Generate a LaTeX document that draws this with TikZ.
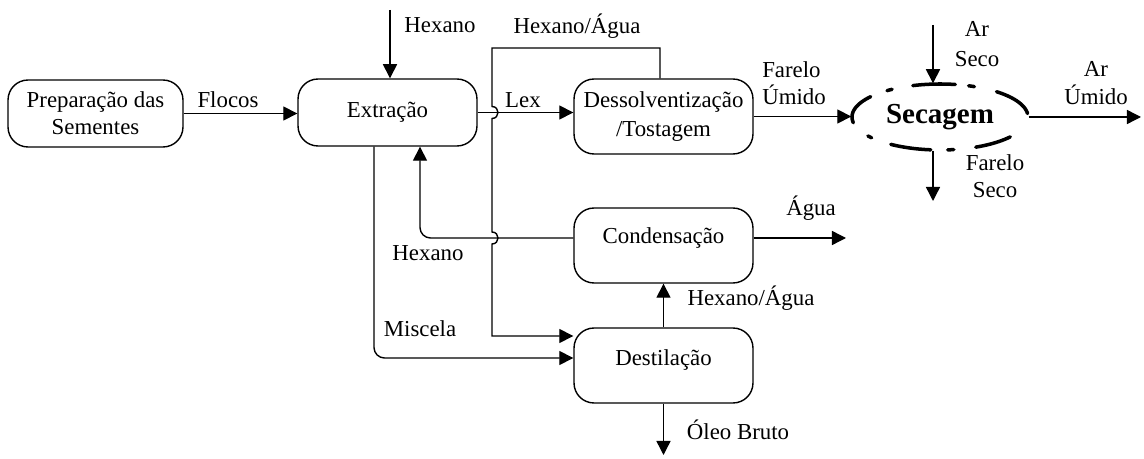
\documentclass[tikz,border=0pt]{standalone}
\usepackage{fontspec}
\setmainfont{Liberation Serif}
\usetikzlibrary{arrows.meta,shapes.geometric,calc}
\begin{document}
\begin{tikzpicture}[x=0.02cm,y=-0.02cm, line width=0.8pt,
  >={Triangle[length=8pt,width=8pt]},
  every node/.style={font=\fontsize{13}{15.5}\selectfont, inner sep=1pt},
  proc/.style={draw, rounded corners=0.4cm, minimum width=3.58cm, inner sep=0pt, align=center},
  dashseg/.style={line width=2pt, line cap=round}]
\fill[white] (0,0) rectangle (1144,459);
\useasboundingbox (0,0) rectangle (1144,459);

% process boxes
\node[proc, minimum width=3.5cm, minimum height=1.34cm] (prep) at (95.5,113.5) {Preparação das\\Sementes};
\node[proc, minimum height=1.34cm] (ext) at (387.5,112.5) {Extração};
\node[proc, minimum height=1.5cm, font=\fontsize{13}{16}\selectfont] (des) at (663.5,116.5) {Dessolventização\\/Tostagem};
\node[proc, minimum height=1.5cm] (cond) at (663.5,245.5) {};
\node (condt) at (663.5,238) {Condensação};
\node[proc, minimum height=1.5cm] (dest) at (663.5,365.5) {};
\node (destt) at (663.5,360) {Destilação};
\node[ellipse, minimum width=3.52cm, minimum height=1.32cm, inner sep=0pt,
      font=\fontsize{16.5}{18}\selectfont\bfseries] (sec) at (940,117) {Secagem};

% broken outline of Secagem
\foreach \a/\b in {-108/-80, -127/-123, -71/-67, -50/-6, 37/66, 81/85, 96/124, 141/145, 170/218}{
  \draw[dashseg, domain=\a:\b, smooth, variable=\t] plot ({940+88*cos(\t)},{117+33*sin(\t)});
}

% coordinates
\coordinate (h1) at (390,10);
\coordinate (v1) at (492,48);
\coordinate (v2) at (660,48);
\coordinate (as) at (933,25);
\coordinate (fs) at (933,201);
\coordinate (au) at (1141,117);
\coordinate (ag) at (846,238);
\coordinate (ob) at (663.5,455);
\coordinate (mi) at (0,358);
\coordinate (hx) at (0,336);

% connectors
\draw[->] (prep.east) -- (prep.east -| ext.west);
\draw[->] (h1) -- (h1 |- ext.north);
\draw[->] (ext.east) -- (ext.east -| des.west);
\draw[->] (v2 |- des.north) -- (v2) -- (v1) -- (492,106.5)
   .. controls (500,106.5) and (500,118.5) .. (492,118.5) -- (492,232)
   .. controls (500,232) and (500,244) .. (492,244) -- (492,336) -- (dest.west |- hx);
\draw[->] (des.east) -- (des.east -| sec.west);
\draw[->] (as) -- (as |- sec.north);
\draw[->] (fs |- sec.south) -- (fs);
\draw[->] (sec.east) -- (au);
\draw[->] (cond.east |- ag) -- (ag);
\draw[->, rounded corners=6pt] (cond.west |- condt.center) -| ($(ext.south)+(32.5,0)$);
\draw[->, rounded corners=6pt] ($(ext.south)+(-13.5,0)$) |- (dest.west |- mi);
\draw[->] (dest.north) -- (cond.south);
\draw[->] (dest.south) -- (ob);

% labels
\node (lflocos) at (228,100) {Flocos};
\node (lhex1) at (440,25) {Hexano};
\node (lhexag1) at (577,26) {Hexano/Água};
\node (llex) at (523,100) {Lex};
\node[align=left] (lfu) at (794,83) {Farelo\\Úmido};
\node[align=center] (las) at (977,44) {Ar\\[2pt]Seco};
\node[align=center] (lau) at (1096,83) {Ar\\Úmido};
\node[align=center] (lfs) at (995,176) {Farelo\\Seco};
\node (lag) at (811,208) {Água};
\node (lhex2) at (428,253) {Hexano};
\node (lmis) at (420,329) {Miscela};
\node (lhexag2) at (751,298) {Hexano/Água};
\node (lob) at (738,430) {Óleo Bruto};
\end{tikzpicture}
\end{document}
